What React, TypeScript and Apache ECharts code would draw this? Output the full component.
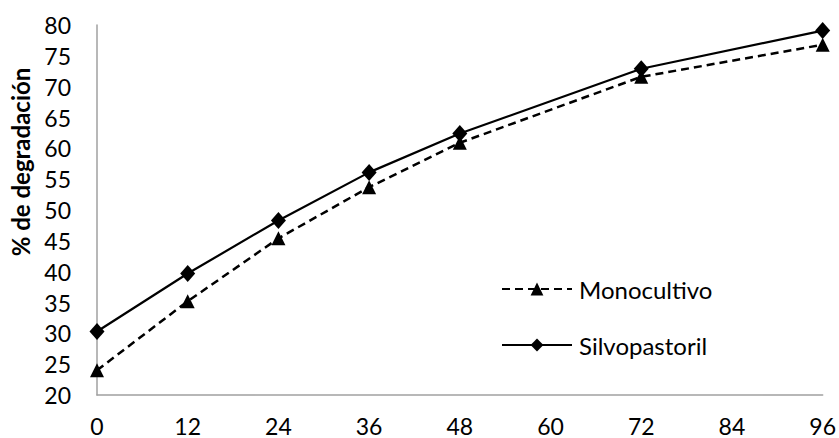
import React, { useEffect, useRef } from "react";
import * as echarts from "echarts";

const hours = [0, 12, 24, 36, 48, 72, 96];
const monocultivo = [24.0, 35.2, 45.4, 53.7, 60.9, 71.6, 76.8];
const silvopastoril = [30.3, 39.7, 48.3, 56.1, 62.4, 72.9, 79.1];
const yTitle = "% de degradación";

const FONT = "Lato, 'Liberation Sans', sans-serif";

export default function App() {
  const ref = useRef<HTMLDivElement>(null);
  useEffect(() => {
    if (!ref.current) return;
    const chart = echarts.init(ref.current, undefined, { renderer: "svg" });
    chart.setOption({
      animation: false,
      backgroundColor: "#ffffff",
      textStyle: { fontFamily: FONT },
      grid: { left: 97, right: 16, top: 25, bottom: 43, containLabel: false },
      xAxis: {
        type: "value",
        min: 0,
        max: 96,
        interval: 12,
        axisLine: { show: true, lineStyle: { color: "#a0a0a0", width: 1.5 } },
        axisTick: { show: false },
        splitLine: { show: false },
        axisLabel: { color: "#000", fontSize: 23, fontFamily: FONT, margin: 19 },
      },
      yAxis: {
        type: "value",
        min: 20,
        max: 80,
        interval: 5,
        axisLine: { show: true, lineStyle: { color: "#a0a0a0", width: 1.5 } },
        axisTick: { show: false },
        splitLine: { show: false },
        axisLabel: { color: "#000", fontSize: 23, fontFamily: FONT, margin: 26 },
      },
      legend: {
        orient: "vertical",
        left: 496,
        top: 272,
        itemWidth: 70,
        itemHeight: 16,
        itemGap: 32,
        textStyle: { color: "#000", fontSize: 24, fontFamily: FONT, padding: [0, 0, 0, 2] },
        data: ["Monocultivo", "Silvopastoril"],
      },
      graphic: [
        {
          type: "text",
          x: 20,
          y: 162,
          rotation: Math.PI / 2,
          style: {
            text: yTitle,
            fontSize: 24,
            fontWeight: "bold",
            fontFamily: FONT,
            fill: "#000",
            align: "center",
            verticalAlign: "middle",
          },
        },
      ],
      series: [
        {
          name: "Monocultivo",
          type: "line",
          data: hours.map((h, i) => [h, monocultivo[i]]),
          symbol: "triangle",
          symbolSize: 14,
          itemStyle: { color: "#000" },
          lineStyle: { color: "#000", width: 2.5, type: [8, 5] },
        },
        {
          name: "Silvopastoril",
          type: "line",
          data: hours.map((h, i) => [h, silvopastoril[i]]),
          symbol: "diamond",
          symbolSize: [15, 17],
          itemStyle: { color: "#000" },
          lineStyle: { color: "#000", width: 2.2 },
        },
      ],
    });
    return () => chart.dispose();
  }, []);
  return <div ref={ref} style={{ width: 839, height: 438, position: "absolute", left: 0, top: 0 }} />;
}
